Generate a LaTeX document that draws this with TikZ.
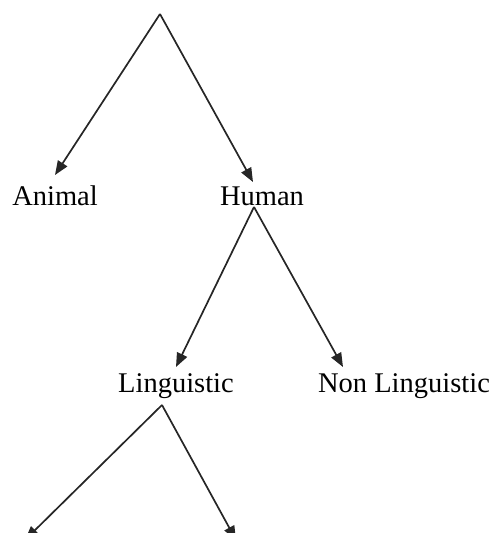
\documentclass[tikz,border=0pt]{standalone}
\usepackage{fontspec}
\setmainfont{Liberation Serif}
\usetikzlibrary{arrows.meta}
\begin{document}
\begin{tikzpicture}[x=1pt,y=-1pt,
  lbl/.style={inner sep=0pt,font=\fontsize{28.5}{30}\selectfont},
  arr/.style={line width=1.7pt,draw=black!85,-{Triangle[length=14pt,width=11pt]}}]
\useasboundingbox (0,0) rectangle (500,533);
\node[lbl] (animal) at (55,196) {Animal};
\node[lbl] (human) at (262,196) {Human};
\node[lbl] (ling) at (176,386) {Linguistic};
\node[lbl] (nonling) at (404,386) {Non Linguistic};
\coordinate (top) at (160,14);
\coordinate (hb) at (254,207);
\coordinate (lb) at (162,405);
\coordinate (animaltip) at (55,175);
\coordinate (humantip) at (253,182);
\coordinate (lingtip) at (176,367);
\coordinate (nonlingtip) at (343,367);
\coordinate (ll) at (25,540);
\coordinate (lr) at (236,540);
\draw[arr] (top) -- (animaltip);
\draw[arr] (top) -- (humantip);
\draw[arr] (hb) -- (lingtip);
\draw[arr] (hb) -- (nonlingtip);
\draw[arr] (lb) -- (ll);
\draw[arr] (lb) -- (lr);
\end{tikzpicture}
\end{document}
